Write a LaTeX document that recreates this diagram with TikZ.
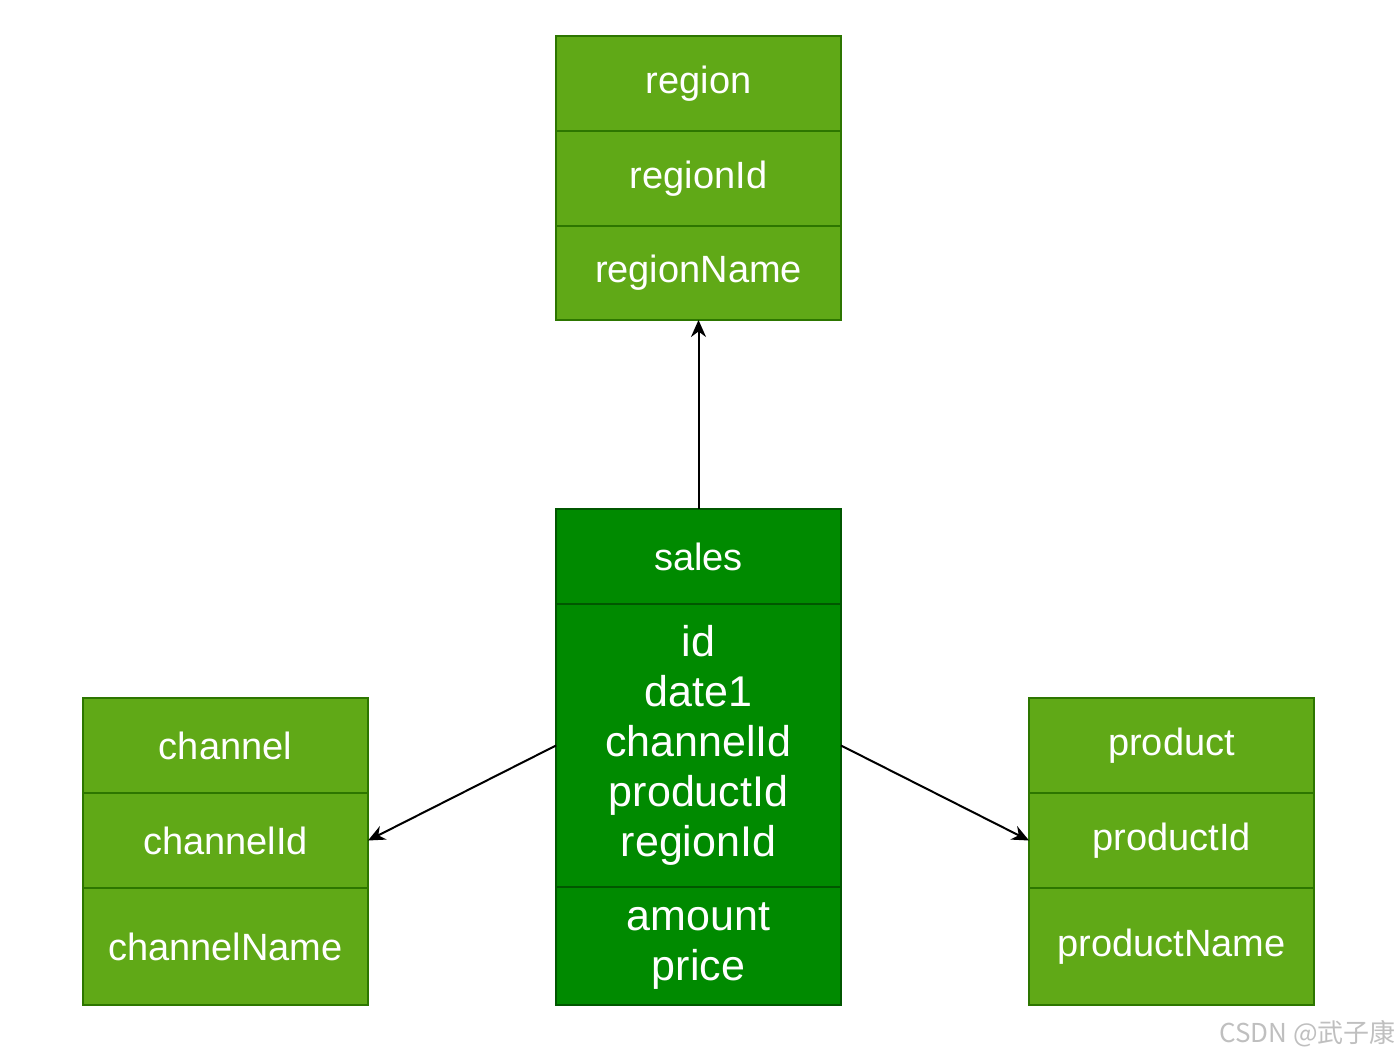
\documentclass[tikz,border=0pt]{standalone}
\usepackage{fontspec}
\setmainfont{Liberation Sans}
\newfontfamily\cjk{Noto Sans CJK SC}
\usetikzlibrary{arrows.meta}
\definecolor{lgreen}{HTML}{60A917}
\definecolor{lborder}{HTML}{2D7600}
\definecolor{dgreen}{HTML}{008A00}
\definecolor{dborder}{HTML}{005700}
\tikzset{
  cell/.style={draw=lborder, fill=lgreen, line width=0.75pt, text=white,
    minimum width=142.5pt, inner sep=0pt, outer sep=0pt, anchor=north west,
    font=\fontsize{19}{25}\selectfont, align=center},
  dcell/.style={cell, draw=dborder, fill=dgreen},
  bigtext/.style={font=\fontsize{21.5}{25}\selectfont},
  link/.style={line width=1pt, -{Stealth[length=8.5pt,width=7.5pt]}}
}
\begin{document}
\begin{tikzpicture}[x=0.5pt,y=-0.5pt]
\useasboundingbox (0,0) rectangle (1400,1059);
% region
\node[cell, minimum height=47.5pt] (r1) at (556,36) {region};
\node[cell, minimum height=47.5pt] (r2) at (556,131) {regionId};
\node[cell, minimum height=47pt] (r3) at (556,226) {regionName};
% sales
\node[dcell, minimum height=47.5pt] (s1) at (556,509) {sales};
\node[dcell, bigtext, minimum height=141.5pt] (s2) at (556,604) {id\\date1\\channelId\\productId\\regionId};
\node[dcell, bigtext, minimum height=59pt] (s3) at (556,887) {amount\\price};
% channel
\node[cell, minimum height=47.5pt] (c1) at (83,698) {channel};
\node[cell, minimum height=47.5pt] (c2) at (83,793) {channelId};
\node[cell, minimum height=58.5pt] (c3) at (83,888) {channelName};
% product
\node[cell, minimum height=47.5pt] (p1) at (1029,698) {product};
\node[cell, minimum height=47.5pt] (p2) at (1029,793) {productId};
\node[cell, minimum height=58.5pt] (p3) at (1029,888) {productName};
% links
\draw[link] (s1.north) -- (r3.south);
\draw[link] (s2.west) -- (c2.east);
\draw[link] (s2.east) -- (p2.west);
% watermark
\node[anchor=east, text=black!25, font=\cjk\fontsize{13}{15}\selectfont, inner sep=0pt] (wm) at (1396,1034) {CSDN @武子康};
\end{tikzpicture}
\end{document}
